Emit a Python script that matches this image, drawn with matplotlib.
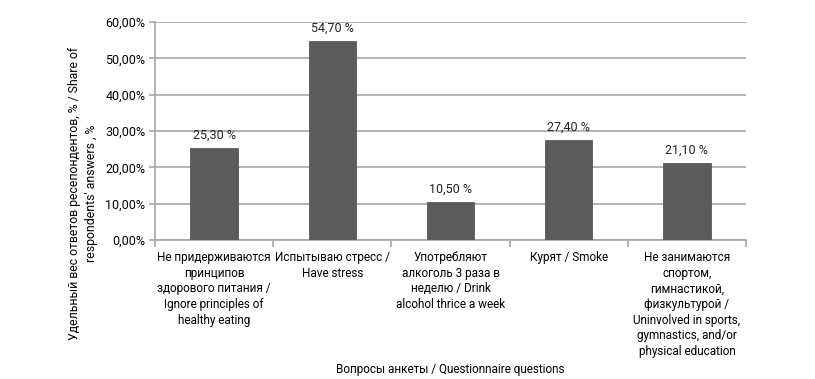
import matplotlib
matplotlib.use('Agg')
import matplotlib.pyplot as plt
import numpy as np

plt.rcParams['font.family'] = ['Roboto', 'DejaVu Sans']

categories = [
    'Не придерживаются\nпринципов\nздорового питания /\nIgnore principles of\nhealthy eating',
    'Испытываю стресс /\nHave stress',
    'Употребляют\nалкоголь 3 раза в\nнеделю / Drink\nalcohol thrice a week',
    'Курят / Smoke',
    'Не занимаются\nспортом,\nгимнастикой,\nфизкультурой /\nUninvolved in sports,\ngymnastics, and/or\nphysical education',
]
values = [25.3, 54.7, 10.5, 27.4, 21.1]
value_labels = ['25,30 %', '54,70 %', '10,50 %', '27,40 %', '21,10 %']
y_ticks = [0, 10, 20, 30, 40, 50, 60]
y_tick_labels = ['0,00%', '10,00%', '20,00%', '30,00%', '40,00%', '50,00%', '60,00%']

fig = plt.figure(figsize=(8.15, 3.79), dpi=100)
ax = fig.add_axes([155 / 815, 1 - 240 / 379, (746 - 155) / 815, (240 - 22) / 379])

grid_col = '#a6a6a6'
x = np.arange(len(values))
ax.bar(x, values, width=0.4, color='#5b5b5b', edgecolor='#4a4a4a', linewidth=0.5, zorder=3)

for xi, v, lab in zip(x, values, value_labels):
    ax.text(xi, v + 1.8, lab, ha='center', va='bottom', fontsize=9, color='#222222')

ax.set_xlim(-0.5, len(values) - 0.5)
ax.set_ylim(0, 60)
ax.set_yticks(y_ticks)
ax.set_yticklabels(y_tick_labels, fontsize=9)
ax.yaxis.grid(True, color=grid_col, linewidth=1.2, zorder=0)
ax.set_axisbelow(True)

# category ticks at the boundaries, labels centred under bars
ax.set_xticks(np.arange(-0.5, len(values), 1.0))
ax.set_xticklabels([])
ax.set_xticks(x, minor=True)
ax.set_xticklabels(categories, minor=True, fontsize=8.5, linespacing=1.26, va='top')
ax.tick_params(axis='x', which='minor', length=0, pad=8)
ax.tick_params(axis='x', which='major', length=5, color=grid_col, width=1.2)
ax.tick_params(axis='y', length=4, color=grid_col, width=1.2, pad=3)

for side in ['top', 'right']:
    ax.spines[side].set_visible(False)
ax.spines['left'].set_color(grid_col)
ax.spines['left'].set_linewidth(1.2)
ax.spines['bottom'].set_color(grid_col)
ax.spines['bottom'].set_linewidth(1.2)

fig.text(83 / 815, 1 - 193 / 379,
         'Удельный вес ответов ресепондентов, % / Share of\nrespondents\' answers , %',
         rotation=90, ha='center', va='center', fontsize=8.8, linespacing=1.3)
fig.text(450 / 815, 1 - 369 / 379, 'Вопросы анкеты / Questionnaire questions',
         ha='center', va='center', fontsize=8.5)

fig.savefig('out.png', dpi=100)
